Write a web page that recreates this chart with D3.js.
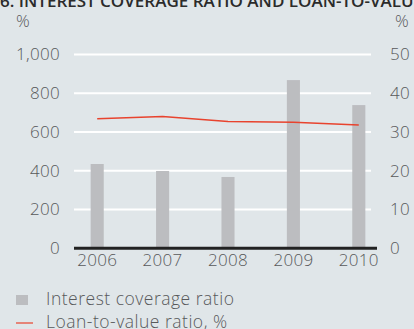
<!DOCTYPE html>
<html><head><meta charset="utf-8">
<script src="https://cdn.jsdelivr.net/npm/d3@7"></script>
<style>
html,body{margin:0;padding:0;background:#e0e6e9;overflow:hidden;}
svg{display:block;}
text{font-family:"Open Sans",sans-serif;}
</style></head><body>
<svg id="c" width="414" height="329"></svg>
<script>
const years = ["2006","2007","2008","2009","2010"];
const coverage = [435, 399, 368, 868, 739];
const ltv = [33.4, 34.0, 32.7, 32.5, 31.8];
const leftTicks = [0, 200, 400, 600, 800, 1000];
const rightTicks = [0, 10, 20, 30, 40, 50];
const title = "6. INTEREST COVERAGE RATIO AND LOAN-TO-VALUE RATIO";
const legendLabels = ["Interest coverage ratio", "Loan-to-value ratio, %"];

const FONT = "'Open Sans', sans-serif";
const TXT = "#58595b";
const svg = d3.select("#c");
const W = 414, H = 329;
svg.append("rect").attr("width", W).attr("height", H).attr("fill", "#e0e6e9");

const x0 = 74, x1 = 377, yTop = 54.5, yBot = 248.3;
const x = d3.scaleBand().domain(years).range([64.5, 391.5]).paddingInner(0.8).paddingOuter(0.4);
const yL = d3.scaleLinear().domain([0, 1000]).range([yBot, yTop]);
const yR = d3.scaleLinear().domain([0, 50]).range([yBot, yTop]);

// title
svg.append("text").attr("x", 0).attr("y", 7).attr("font-size", 17).attr("font-weight", 600)
  .attr("fill", "#2b2b2b").text(title);
svg.append("text").attr("x", 16).attr("y", 27).attr("font-size", 17).attr("fill", TXT).attr("font-weight", 300).text("%");
svg.append("text").attr("x", 395).attr("y", 27).attr("font-size", 17).attr("fill", TXT).attr("font-weight", 300).text("%");

// gridlines
svg.append("g").selectAll("line").data(leftTicks.filter(d => d > 0)).join("line")
  .attr("x1", x0).attr("x2", 371).attr("y1", d => yL(d)).attr("y2", d => yL(d))
  .attr("stroke", "#ffffff").attr("stroke-width", 2);

function styleAxis(g) {
  g.select(".domain").remove();
  g.selectAll("text").attr("font-size", 17).attr("fill", TXT).attr("font-family", FONT)
    .attr("font-weight", 300).attr("letter-spacing", 0.3);
}
// left axis
svg.append("g").attr("transform", `translate(${x0},0)`)
  .call(d3.axisLeft(yL).tickValues(leftTicks).tickFormat(d3.format(",")).tickSize(0).tickPadding(14))
  .call(styleAxis);

// right axis
svg.append("g").attr("transform", `translate(${x1},0)`)
  .call(d3.axisRight(yR).tickValues(rightTicks).tickSize(0).tickPadding(13))
  .call(styleAxis);

// bars
svg.append("g").selectAll("rect").data(years).join("rect")
  .attr("x", d => x(d)).attr("width", x.bandwidth())
  .attr("y", (d, i) => yL(coverage[i])).attr("height", (d, i) => yBot - yL(coverage[i]))
  .attr("fill", "#bcbdc0");

// line
const line = d3.line().x((d, i) => x(years[i]) + x.bandwidth() / 2).y(d => yR(d));
svg.append("path").datum(ltv).attr("d", line).attr("fill", "none")
  .attr("stroke", "#e8432e").attr("stroke-width", 1.5);

// baseline
svg.append("line").attr("x1", x0).attr("x2", x1).attr("y1", yBot).attr("y2", yBot)
  .attr("stroke", "#222").attr("stroke-width", 3);

// x axis labels
svg.append("g").attr("transform", `translate(0,${yBot})`)
  .call(d3.axisBottom(x).tickSize(0).tickPadding(6))
  .call(styleAxis);

// legend
svg.append("rect").attr("x", 16).attr("y", 295).attr("width", 12).attr("height", 10).attr("fill", "#bcbdc0");
svg.append("line").attr("x1", 16).attr("x2", 33).attr("y1", 323).attr("y2", 323).attr("stroke", "#e8432e").attr("stroke-width", 1.2);
svg.append("g").selectAll("text").data(legendLabels).join("text")
  .attr("x", 46).attr("y", (d, i) => 305 + i * 23).attr("font-size", 17.5).attr("fill", TXT)
  .attr("font-weight", 300).attr("letter-spacing", 0.5).text(d => d);
</script></body></html>
